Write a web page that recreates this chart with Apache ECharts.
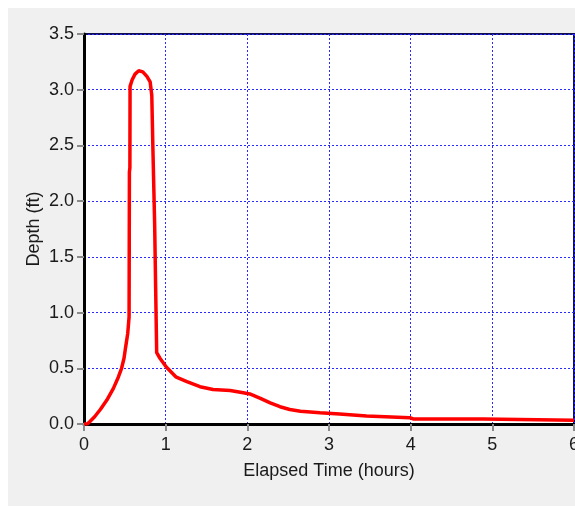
<!DOCTYPE html>
<html>
<head>
<meta charset="utf-8">
<script src="https://cdn.jsdelivr.net/npm/echarts@6/dist/echarts.min.js"></script>
<style>
html,body{margin:0;padding:0;background:#ffffff;overflow:hidden;}
#bg{position:absolute;left:8px;top:8px;width:567px;height:498px;background:#f0f0f0;}
#chart{position:absolute;left:0;top:0;width:575px;height:506px;}
</style>
</head>
<body>
<div id="bg"></div>
<div id="chart"></div>
<script>
// Elapsed time (hours)
var timeHours = [0.0, 0.04, 0.07, 0.13, 0.2, 0.28, 0.36, 0.42, 0.46, 0.49, 0.51, 0.535, 0.552, 0.556, 0.562, 0.564, 0.59, 0.625, 0.67, 0.72, 0.77, 0.81, 0.83, 0.845, 0.865, 0.88, 0.89, 0.93, 1.01, 1.13, 1.26, 1.42, 1.58, 1.79, 1.95, 2.03, 2.16, 2.28, 2.4, 2.52, 2.65, 2.89, 3.13, 3.46, 3.99, 4.03, 4.89, 4.91, 6.0];
// Depth (ft)
var depthFt = [0.0, 0.0, 0.02, 0.065, 0.13, 0.215, 0.32, 0.42, 0.5, 0.59, 0.69, 0.81, 0.96, 2.26, 2.3, 3.03, 3.09, 3.14, 3.17, 3.16, 3.12, 3.07, 2.95, 2.43, 1.8, 1.1, 0.64, 0.59, 0.51, 0.42, 0.38, 0.335, 0.31, 0.30, 0.28, 0.27, 0.23, 0.19, 0.155, 0.13, 0.115, 0.10, 0.09, 0.072, 0.057, 0.045, 0.045, 0.033, 0.033];
var xTicks = [0, 1, 2, 3, 4, 5, 6];
var yTicks = [0.0, 0.5, 1.0, 1.5, 2.0, 2.5, 3.0, 3.5];
var xTitle = 'Elapsed Time (hours)';
var yTitle = 'Depth (ft)';

var pts = timeHours.map(function (t, i) { return [t, depthFt[i]]; });
var font = 'Liberation Sans, Arial, sans-serif';
var txt = '#1a1a1a';
var grid = {type: [2, 2], color: '#2a2aff', width: 1};

var chart = echarts.init(document.getElementById('chart'), null, {renderer: 'canvas'});
chart.setOption({
  backgroundColor: 'transparent',
  animation: false,
  grid: {left: 84, top: 34, width: 490, height: 390, show: true, backgroundColor: '#ffffff', borderColor: '#101050', borderWidth: 2, containLabel: false, outerBoundsMode: 'none'},
  xAxis: {
    type: 'value', min: xTicks[0], max: xTicks[xTicks.length - 1], interval: 1,
    name: xTitle, nameLocation: 'middle', nameGap: 38, nameMoveOverlap: false,
    nameTextStyle: {fontFamily: font, fontSize: 18, color: txt},
    axisLine: {show: true, onZero: false, lineStyle: {color: '#000000', width: 3}},
    axisTick: {show: true, length: 7, lineStyle: {color: '#8a8a8a', width: 2}},
    axisLabel: {fontFamily: font, fontSize: 18, color: txt, margin: 12},
    splitLine: {show: true, lineStyle: grid}
  },
  yAxis: {
    type: 'value', min: yTicks[0], max: yTicks[yTicks.length - 1], interval: 0.5,
    name: yTitle, nameLocation: 'middle', nameGap: 41, nameRotate: 90, nameMoveOverlap: false,
    nameTextStyle: {fontFamily: font, fontSize: 18, color: txt},
    axisLine: {show: true, onZero: false, lineStyle: {color: '#000000', width: 3}},
    axisTick: {show: true, length: 7, lineStyle: {color: '#8a8a8a', width: 2}},
    axisLabel: {fontFamily: font, fontSize: 18, color: txt, margin: 10, formatter: function (v) { return v.toFixed(1); }},
    splitLine: {show: true, lineStyle: grid}
  },
  series: [{
    type: 'line', data: pts, showSymbol: false, symbol: 'none',
    lineStyle: {color: '#ff0000', width: 3.5}, clip: true
  }]
});
</script>
</body>
</html>
